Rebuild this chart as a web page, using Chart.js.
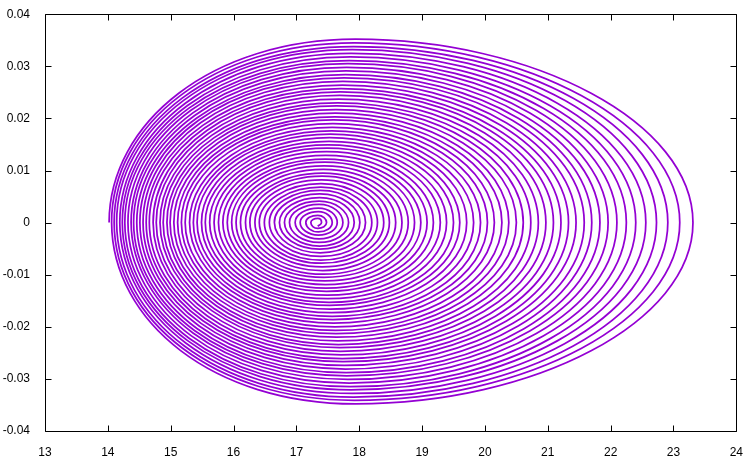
<!DOCTYPE html>
<html>
<head>
<meta charset="utf-8">
<script src="https://cdn.jsdelivr.net/npm/chart.js@4.4.0/dist/chart.umd.min.js"></script>
<style>
  html, body { margin: 0; padding: 0; background: #fff; }
  canvas { display: block; }
</style>
</head>
<body>
<canvas id="myChart" width="749" height="457"></canvas>
<script>
  const xTicks = [13, 14, 15, 16, 17, 18, 19, 20, 21, 22, 23, 24];
  const yTicks = [-0.04, -0.03, -0.02, -0.01, 0, 0.01, 0.02, 0.03, 0.04];
  const yTickLabels = ["-0.04", "-0.03", "-0.02", "-0.01", "0", "0.01", "0.02", "0.03", "0.04"];

  // one entry per turn of the spiral, outermost turn first
  const leftX = [
    14.02, 14.06, 14.10, 14.14, 14.19, 14.23, 14.27, 14.32, 14.37, 14.41,
    14.46, 14.51, 14.56, 14.61, 14.66, 14.72, 14.77, 14.83, 14.88, 14.94,
    14.99, 15.05, 15.11, 15.17, 15.23, 15.30, 15.36, 15.42, 15.49, 15.55,
    15.62, 15.69, 15.76, 15.83, 15.90, 15.97, 16.04, 16.11, 16.19, 16.26,
    16.34, 16.41, 16.49, 16.57, 16.65, 16.73, 16.81, 16.89, 16.98, 17.06,
    17.15, 17.23
  ];
  const topY = [
    0.0352, 0.0345, 0.0338, 0.0332, 0.0325, 0.0318, 0.0311, 0.0305, 0.0298, 0.0291,
    0.0284, 0.0278, 0.0271, 0.0264, 0.0257, 0.0251, 0.0244, 0.0237, 0.0230, 0.0224,
    0.0217, 0.0210, 0.0203, 0.0197, 0.0190, 0.0183, 0.0176, 0.0170, 0.0163, 0.0156,
    0.0149, 0.0143, 0.0136, 0.0129, 0.0122, 0.0116, 0.0109, 0.0102, 0.0095, 0.0089,
    0.0082, 0.0075, 0.0068, 0.0062, 0.0055, 0.0048, 0.0041, 0.0035, 0.0028, 0.0021,
    0.0014, 0.0008
  ];
  const rightX = [
    23.31, 23.10, 22.91, 22.73, 22.56, 22.40, 22.25, 22.10, 21.96, 21.83,
    21.70, 21.58, 21.45, 21.33, 21.21, 21.09, 20.97, 20.85, 20.73, 20.61,
    20.50, 20.38, 20.27, 20.15, 20.04, 19.93, 19.82, 19.71, 19.60, 19.50,
    19.39, 19.29, 19.18, 19.08, 18.98, 18.88, 18.78, 18.68, 18.58, 18.48,
    18.39, 18.29, 18.20, 18.10, 18.01, 17.92, 17.83, 17.74, 17.65, 17.57,
    17.48, 17.40
  ];
  const bottomY = [
    -0.0348, -0.0341, -0.0335, -0.0328, -0.0321, -0.0315, -0.0308, -0.0301, -0.0294, -0.0288,
    -0.0281, -0.0274, -0.0267, -0.0261, -0.0254, -0.0247, -0.0240, -0.0234, -0.0227, -0.0220,
    -0.0213, -0.0207, -0.0200, -0.0193, -0.0186, -0.0180, -0.0173, -0.0166, -0.0159, -0.0153,
    -0.0146, -0.0139, -0.0132, -0.0126, -0.0119, -0.0112, -0.0105, -0.0099, -0.0092, -0.0085,
    -0.0078, -0.0072, -0.0065, -0.0058, -0.0051, -0.0045, -0.0038, -0.0031, -0.0024, -0.0018,
    -0.0011, -0.0007
  ];
  // x where each turn reaches its highest / lowest point
  const peakX = [
    17.94, 17.92, 17.91, 17.89, 17.87, 17.86, 17.84, 17.82, 17.80, 17.79,
    17.78, 17.76, 17.74, 17.73, 17.71, 17.70, 17.69, 17.67, 17.66, 17.64,
    17.63, 17.62, 17.61, 17.59, 17.58, 17.57, 17.56, 17.54, 17.53, 17.52,
    17.50, 17.49, 17.48, 17.47, 17.46, 17.45, 17.44, 17.43, 17.42, 17.41,
    17.40, 17.39, 17.39, 17.38, 17.37, 17.37, 17.36, 17.36, 17.35, 17.35,
    17.34, 17.34
  ];

  // hidden lead-in point (outer bottom) so the first turn leaves the left edge vertically
  const spiral = [{ x: peakX[0], y: bottomY[0] }];
  leftX.forEach((lx, i) => {
    spiral.push({ x: lx, y: 0 });
    spiral.push({ x: peakX[i], y: topY[i] });
    spiral.push({ x: rightX[i], y: 0 });
    spiral.push({ x: peakX[i], y: bottomY[i] });
  });

  // gnuplot style box with inward ticks on all four sides
  const frame = {
    id: "frame",
    afterDatasetsDraw(chart) {
      const { ctx, chartArea: a, scales: { x, y } } = chart;
      const L = Math.round(a.left) + 0.5, R = Math.round(a.right) + 0.5;
      const T = Math.round(a.top) + 0.5, B = Math.round(a.bottom) + 0.5;
      ctx.save();
      ctx.strokeStyle = "#000";
      ctx.lineWidth = 1;
      ctx.beginPath();
      xTicks.forEach(v => {
        const px = Math.round(x.getPixelForValue(v)) + 0.5;
        ctx.moveTo(px, B); ctx.lineTo(px, B - 6);
        ctx.moveTo(px, T); ctx.lineTo(px, T + 6);
      });
      yTicks.forEach(v => {
        const py = Math.round(y.getPixelForValue(v)) + 0.5;
        ctx.moveTo(L, py); ctx.lineTo(L + 6, py);
        ctx.moveTo(R, py); ctx.lineTo(R - 6, py);
      });
      ctx.moveTo(L, T); ctx.lineTo(R, T); ctx.lineTo(R, B); ctx.lineTo(L, B); ctx.closePath();
      ctx.stroke();
      ctx.restore();
    }
  };

  const tickFont = { family: "'Liberation Sans', Arial, sans-serif", size: 12 };

  new Chart(document.getElementById("myChart"), {
    type: "line",
    data: {
      datasets: [{
        data: spiral,
        borderColor: "#9400d3",
        borderWidth: 1.75,
        tension: 0.55,
        fill: false,
        pointRadius: 0,
        segment: { borderColor: c => (c.p0DataIndex === 0 ? "rgba(0,0,0,0)" : undefined) }
      }]
    },
    options: {
      responsive: false,
      animation: false,
      layout: { padding: { top: 14, right: 11, left: 0, bottom: 0 } },
      plugins: { legend: { display: false }, tooltip: { enabled: false } },
      scales: {
        x: {
          type: "linear",
          min: 13, max: 24,
          grid: { display: false },
          border: { display: false },
          afterBuildTicks: s => { s.ticks = xTicks.map(v => ({ value: v })); },
          afterFit: s => { s.height = 26; },
          ticks: { color: "#000", font: tickFont, padding: 6, autoSkip: false, maxRotation: 0,
                   callback: v => String(v) }
        },
        y: {
          type: "linear",
          min: -0.04, max: 0.04,
          grid: { display: false },
          border: { display: false },
          afterBuildTicks: s => { s.ticks = yTicks.map(v => ({ value: v })); },
          afterFit: s => { s.width = 45; },
          ticks: { color: "#000", font: tickFont, padding: 7, autoSkip: false,
                   callback: (v, i) => yTickLabels[i] }
        }
      }
    },
    plugins: [frame]
  });
</script>
</body>
</html>
